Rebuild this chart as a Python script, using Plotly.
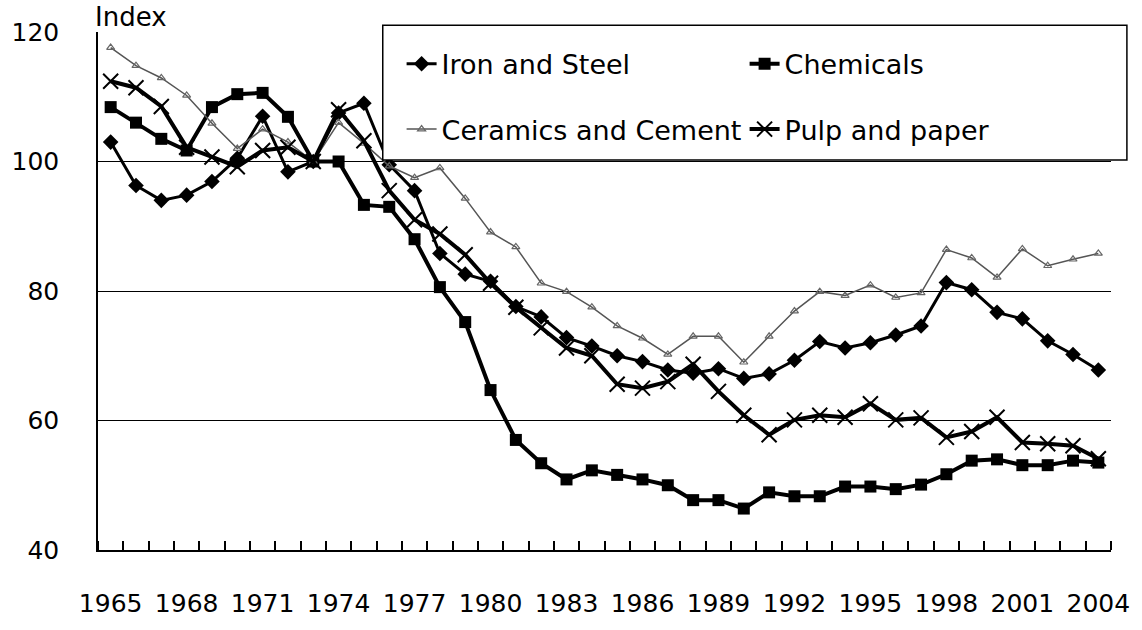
import plotly.graph_objects as go

years = [1965, 1966, 1967, 1968, 1969, 1970, 1971, 1972, 1973, 1974,
         1975, 1976, 1977, 1978, 1979, 1980, 1981, 1982, 1983, 1984,
         1985, 1986, 1987, 1988, 1989, 1990, 1991, 1992, 1993, 1994,
         1995, 1996, 1997, 1998, 1999, 2000, 2001, 2002, 2003, 2004]

iron_steel = [103.0, 96.3, 94.0, 94.8, 96.9, 100.5, 107.0, 98.4, 100.0, 107.5,
              109.0, 99.5, 95.5, 85.8, 82.6, 81.5, 77.6, 76.0, 72.8, 71.5,
              70.0, 69.1, 67.8, 67.3, 68.0, 66.5, 67.2, 69.3, 72.2, 71.2,
              72.0, 73.2, 74.6, 81.3, 80.2, 76.7, 75.7, 72.3, 70.2, 67.8]

chemicals = [108.4, 106.0, 103.5, 101.7, 108.4, 110.4, 110.6, 106.9, 100.0, 100.0,
             93.3, 93.0, 88.0, 80.6, 75.2, 64.7, 57.0, 53.4, 50.9, 52.3,
             51.6, 50.9, 50.0, 47.7, 47.7, 46.4, 48.9, 48.3, 48.3, 49.8,
             49.8, 49.4, 50.1, 51.7, 53.8, 54.0, 53.1, 53.1, 53.8, 53.5]

ceramics_cement = [117.6, 114.8, 112.9, 110.2, 105.9, 102.0, 105.0, 103.0, 100.0, 106.0,
                   102.8, 99.3, 97.5, 99.0, 94.3, 89.1, 86.8, 81.2, 79.9, 77.5,
                   74.6, 72.7, 70.2, 73.0, 73.0, 69.0, 73.0, 76.9, 79.9, 79.3,
                   80.9, 79.0, 79.7, 86.4, 85.1, 82.1, 86.5, 83.9, 84.9, 85.8]

pulp_paper = [112.4, 111.4, 108.5, 102.2, 100.7, 99.2, 101.7, 102.2, 100.0, 108.0,
              103.2, 95.5, 91.0, 88.8, 85.6, 81.2, 77.5, 74.3, 71.2, 70.0,
              65.6, 65.0, 66.0, 68.7, 64.5, 60.8, 57.8, 60.1, 60.8, 60.5,
              62.6, 60.1, 60.4, 57.4, 58.3, 60.5, 56.6, 56.4, 56.1, 54.1]

x_tick_years = [1965, 1968, 1971, 1974, 1977, 1980, 1983, 1986, 1989, 1992, 1995, 1998, 2001, 2004]
y_ticks = [40, 60, 80, 100, 120]
boundaries = [y - 0.5 for y in years] + [years[-1] + 0.5]

FONT = "DejaVu Sans"

fig = go.Figure()
fig.add_trace(go.Scatter(
    x=years, y=iron_steel, name="Iron and Steel", mode="lines+markers",
    line=dict(color="black", width=3),
    marker=dict(symbol="diamond", size=12, color="black"),
    legend="legend"))
fig.add_trace(go.Scatter(
    x=years, y=chemicals, name="Chemicals", mode="lines+markers",
    line=dict(color="black", width=4),
    marker=dict(symbol="square", size=12, color="black"),
    legend="legend"))
fig.add_trace(go.Scatter(
    x=years, y=ceramics_cement, name="Ceramics and Cement", mode="lines+markers",
    line=dict(color="#555555", width=1.5),
    marker=dict(symbol="triangle-up-open", size=7, color="#666666", line=dict(width=1.2)),
    legend="legend2"))
fig.add_trace(go.Scatter(
    x=years, y=pulp_paper, name="Pulp and paper", mode="lines+markers",
    line=dict(color="black", width=4),
    marker=dict(symbol="x-thin-open", size=15, color="black", line=dict(width=2, color="black")),
    legend="legend2"))

fig.add_shape(type="rect", xref="paper", yref="paper",
              x0=0.2811, x1=1.0157, y0=0.7528, y1=1.0130,
              line=dict(color="black", width=1.5), fillcolor="white", layer="above")

fig.add_annotation(text="Index", xref="paper", yref="paper", x=-0.005, y=1.028,
                   xanchor="left", yanchor="middle", showarrow=False,
                   font=dict(family=FONT, size=26, color="black"))

legend_common = dict(xanchor="left", yanchor="top", orientation="h",
                     entrywidth=298, itemwidth=30,
                     font=dict(family=FONT, size=27, color="black"),
                     bgcolor="rgba(0,0,0,0)", borderwidth=0)

fig.update_layout(
    width=1142, height=630,
    margin=dict(l=91, r=30, t=32, b=60),
    paper_bgcolor="white", plot_bgcolor="white",
    font=dict(family=FONT, size=25, color="black"),
    legend=dict(x=0.2997, y=0.985, **legend_common),
    legend2=dict(x=0.2997, y=0.859, **legend_common),
    xaxis=dict(
        range=[1964.5, 2004.5], tickmode="array", tickvals=x_tick_years,
        ticktext=[str(v) for v in x_tick_years], ticks="",
        showline=True, linecolor="black", linewidth=1.5, showgrid=False, zeroline=False,
        ticklabelstandoff=30, tickfont=dict(family=FONT, size=25, color="black"),
        minor=dict(tickmode="array", tickvals=boundaries, ticks="inside", ticklen=9,
                   tickcolor="black", tickwidth=1.5, showgrid=False)),
    yaxis=dict(
        range=[40, 120], tickmode="array", tickvals=y_ticks, ticks="",
        showline=True, linecolor="black", linewidth=1.5,
        showgrid=True, gridcolor="black", gridwidth=1, zeroline=False,
        ticklabelstandoff=32, tickfont=dict(family=FONT, size=25, color="black")),
)

fig.write_html("out.html", config={"displayModeBar": False},
               post_script="document.body.style.margin='0';")
